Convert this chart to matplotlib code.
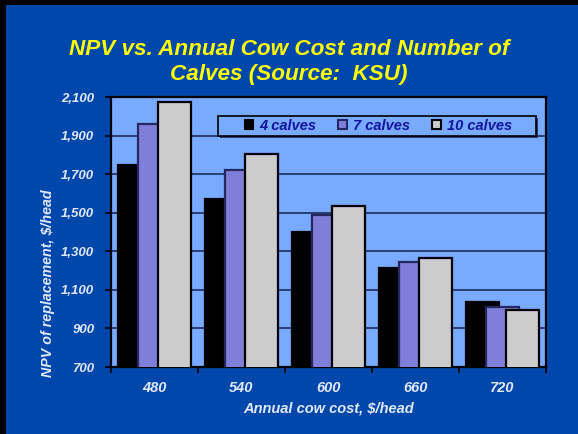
import matplotlib
matplotlib.use("Agg")
import matplotlib.pyplot as plt
from matplotlib.patches import Rectangle, Patch
from matplotlib.ticker import FuncFormatter, FixedLocator
import numpy as np

plt.rcParams['font.family'] = ['Liberation Sans', 'DejaVu Sans']

categories = ["480", "540", "600", "660", "720"]
series_names = ["4 calves", "7 calves", "10 calves"]
calves_4 = [1747, 1573, 1398, 1213, 1039]
calves_7 = [1962, 1722, 1488, 1246, 1011]
calves_10 = [2072, 1803, 1535, 1264, 997]
y_ticks = [700, 900, 1100, 1300, 1500, 1700, 1900, 2100]

title = "NPV vs. Annual Cow Cost and Number of\nCalves (Source:  KSU)"
x_label = "Annual cow cost, $/head"
y_label = "NPV of replacement, $/head"

bg_blue = "#0047AB"
plot_blue = "#78AAFF"
face_colors = ["#000000", "#7F7FDA", "#CCCCCC"]
edge_colors = ["#000000", "#262660", "#000000"]
text_light = "#E2E8FF"

fig = plt.figure(figsize=(5.78, 4.34), dpi=100)
fig.patch.set_facecolor("black")
fig.add_artist(Rectangle((6 / 578, 0), 1, 1 - 5 / 434, transform=fig.transFigure,
                         facecolor=bg_blue, edgecolor="none", zorder=0))

ax = fig.add_axes([111 / 578, 1 - 367 / 434, 435 / 578, 270 / 434])
ax.set_facecolor(plot_blue)

x = np.arange(len(categories))
width = 0.38
offset = 0.23
series = [calves_4, calves_7, calves_10]
for k, (vals, fc, ec) in enumerate(zip(series, face_colors, edge_colors)):
    ax.bar(x + (k - 1) * offset, vals, width=width, bottom=0, color=fc,
           edgecolor=ec, linewidth=1.6, zorder=3 + k)

ax.set_ylim(700, 2100)
ax.set_xlim(-0.5, len(categories) - 0.5)
ax.set_yticks(y_ticks)
ax.yaxis.set_major_formatter(FuncFormatter(lambda v, p: f"{int(v):,}"))
ax.set_xticks(x)
ax.set_xticklabels(categories)
ax.xaxis.set_minor_locator(FixedLocator(np.arange(-0.5, len(categories), 1.0)))
ax.tick_params(axis="x", which="major", length=0, pad=10, labelsize=10.5,
               labelcolor=text_light)
ax.tick_params(axis="x", which="minor", length=4, width=1.2, color="black")
ax.tick_params(axis="y", length=4, width=1.2, color="black", pad=8,
               labelsize=9.5, labelcolor=text_light)
for lab in ax.get_xticklabels() + ax.get_yticklabels():
    lab.set_fontweight("bold")
    lab.set_fontstyle("italic")

ax.grid(axis="y", color="#10204a", linewidth=1.1, zorder=1)
ax.set_axisbelow(True)
for sp in ax.spines.values():
    sp.set_color("black")
    sp.set_linewidth(1.6)

ax.set_xlabel(x_label, fontsize=10.5, fontweight="bold", fontstyle="italic",
              color=text_light, labelpad=5)
fig.text(48 / 578, 1 - 283 / 434, y_label, rotation=90, ha="center", va="center",
         fontsize=10.3, fontweight="bold", fontstyle="italic", color=text_light)

# legend box with shadow
bx0, by0, bw, bh = 0.246, 0.8556, 0.731, 0.074
ax.add_patch(Rectangle((bx0 + 0.005, by0 - 0.008), bw, bh, transform=ax.transAxes,
                       facecolor="#2a3a70", edgecolor="none", zorder=9))
ax.add_patch(Rectangle((bx0, by0), bw, bh, transform=ax.transAxes,
                       facecolor=plot_blue, edgecolor="black", linewidth=1.2,
                       zorder=9.5))
handles = [Patch(facecolor=fc, edgecolor=ec, linewidth=1.5)
           for fc, ec in zip(face_colors, edge_colors)]
leg = ax.legend(handles, series_names, ncol=3, loc="center",
                bbox_to_anchor=(bx0 + bw / 2 + 0.003, by0 + bh / 2),
                borderaxespad=0, frameon=False,
                handlelength=0.6, handleheight=0.6, handletextpad=0.4,
                borderpad=0.0, columnspacing=1.52,
                prop={"weight": "bold", "style": "italic", "size": 10.5})
leg.set_zorder(10)
for t in leg.get_texts():
    t.set_color("#1414A0")

fig.text(0.5, 1 - 62 / 434, title, ha="center", va="center", fontsize=16.2,
         fontweight="bold", fontstyle="italic", color="#FFFF00",
         linespacing=1.25)

fig.savefig("out.png", dpi=100, facecolor=fig.get_facecolor())
